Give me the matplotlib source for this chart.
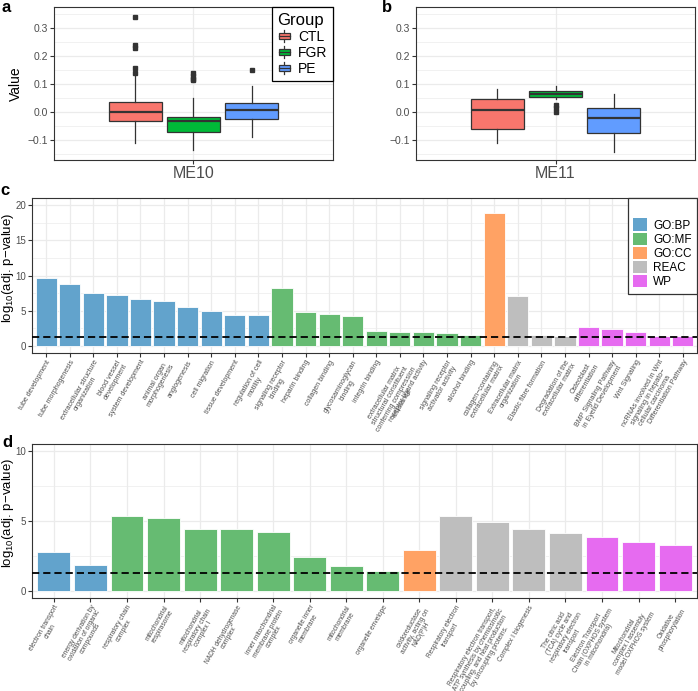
import numpy as np
import matplotlib
matplotlib.use("Agg")
import matplotlib.pyplot as plt
from matplotlib.patches import Patch, Rectangle
from matplotlib.lines import Line2D
from matplotlib.legend_handler import HandlerBase

plt.rcParams['font.family'] = ['Liberation Sans', 'DejaVu Sans']
plt.rcParams['mathtext.fontset'] = 'custom'
plt.rcParams['mathtext.rm'] = 'Liberation Sans'
plt.rcParams['mathtext.default'] = 'regular'

# ---- data: panels a/b (box stats) ----
groups = ["CTL", "FGR", "PE"]
group_colors = ["#F8766D", "#00BA38", "#619CFF"]

me10_q1 = [-0.032, -0.073, -0.024]
me10_med = [0.000, -0.032, 0.008]
me10_q3 = [0.036, -0.018, 0.032]
me10_lo = [-0.113, -0.135, -0.089]
me10_hi = [0.135, 0.048, 0.093]
me10_fliers = [[0.337, 0.240, 0.226, 0.158, 0.139],
               [0.137, 0.127, 0.118, 0.112],
               [0.148]]

me11_q1 = [-0.063, 0.052, -0.077]
me11_med = [0.008, 0.062, -0.021]
me11_q3 = [0.045, 0.074, 0.015]
me11_lo = [-0.113, 0.044, -0.143]
me11_hi = [0.083, 0.092, 0.062]
me11_fliers = [[], [0.024, 0.012, 0.001], []]

# ---- data: panel c (ME10 enrichment) ----
c_labels = [
    "tube development", "tube morphogenesis", "extracellular structure\norganization",
    "blood vessel\ndevelopment", "system development", "animal organ\nmorphogenesis",
    "angiogenesis", "cell migration", "tissue development", "regulation of cell\nmotility",
    "signaling receptor\nbinding", "heparin binding", "collagen binding",
    "glycosaminoglycan\nbinding", "integrin binding",
    "extracellular matrix\nstructural constituent\nconferring compression\nresistance",
    "receptor ligand activity", "signaling receptor\nactivator activity", "alcohol binding",
    "collagen\u2212containing\nextracellular matrix",
    "Extracellular matrix\norganization", "Elastic fibre formation",
    "Degradation of the\nextracellular matrix",
    "Osteoblast\ndifferentiation", "BMP Signaling Pathway\nin Eyelid Development",
    "Wnt Signaling", "ncRNAs involved in Wnt\nsignaling in hepato\u2212\ncellular carcinoma",
    "Differentiation Pathway",
]
c_values = [9.7, 8.8, 7.5, 7.2, 6.7, 6.35, 5.5, 5.0, 4.45, 4.36,
            8.2, 4.83, 4.5, 4.3, 2.08, 2.04, 1.94, 1.9, 1.6,
            18.8,
            7.15, 1.56, 1.47,
            2.75, 2.37, 2.04, 1.42, 1.37]
c_source = (["GO:BP"] * 10 + ["GO:MF"] * 9 + ["GO:CC"] + ["REAC"] * 3 + ["WP"] * 5)

# ---- data: panel d (ME11 enrichment) ----
d_labels = [
    "electron transport\nchain", "energy derivation by\noxidation of organic\ncompounds",
    "respiratory chain\ncomplex", "mitochondrial\nrespirasome",
    "mitochondrial\nrespiratory chain\ncomplex I", "NADH dehydrogenase\ncomplex",
    "inner mitochondrial\nmembrane protein\ncomplex", "organelle inner\nmembrane",
    "mitochondrial\nmembrane", "organelle envelope",
    "oxidoreductase\nactivity, acting on\nNAD(P)H",
    "Respiratory electron\ntransport",
    "Respiratory electron transport,\nATP synthesis by chemiosmotic\ncoupling, and heat production\nby uncoupling proteins.",
    "Complex I biogenesis",
    "The citric acid\n(TCA) cycle and\nrespiratory electron\ntransport",
    "Electron Transport\nChain (OXPHOS system\nin mitochondria)",
    "Mitochondrial\ncomplex I assembly\nmodel OXPHOS system",
    "Oxidative\nphosphorylation",
]
d_values = [2.82, 1.89,
            5.38, 5.24, 4.4, 4.4, 4.21, 2.46, 1.77, 1.46,
            2.92,
            5.38, 4.9, 4.45, 4.16,
            3.88, 3.47, 3.28]
d_source = (["GO:BP"] * 2 + ["GO:MF"] * 8 + ["GO:CC"] + ["REAC"] * 4 + ["WP"] * 3)

sources = ["GO:BP", "GO:MF", "GO:CC", "REAC", "WP"]
source_colors = {"GO:BP": "#62A3CC", "GO:MF": "#66BB72", "GO:CC": "#FFA264",
                 "REAC": "#BEBEBE", "WP": "#E66BF0"}

sig_line = -np.log10(0.05)

# ---- figure ----
W, H = 698, 691
fig = plt.figure(figsize=(W / 100, H / 100), dpi=100)


def add_ax(l, t, r, b):
    return fig.add_axes([l / W, 1 - b / H, (r - l) / W, (b - t) / H])


def style(ax):
    for s in ax.spines.values():
        s.set_color("#333333")
        s.set_linewidth(0.8)
    ax.tick_params(which="major", length=2.75, width=0.8, color="#333333",
                   labelcolor="#4D4D4D", pad=1.5)
    ax.tick_params(which="minor", length=0)
    ax.grid(which="major", color="#EBEBEB", lw=0.9)
    ax.grid(which="minor", color="#EBEBEB", lw=0.5)
    ax.set_axisbelow(True)


class BoxHandler(HandlerBase):
    def create_artists(self, legend, orig_handle, xdescent, ydescent, width, height,
                       fontsize, trans):
        fc = orig_handle.get_facecolor()
        x0 = -xdescent + width * 0.1
        bw = width * 0.8
        y0 = -ydescent + height * 0.22
        bh = height * 0.56
        rect = Rectangle((x0, y0), bw, bh, facecolor=fc, edgecolor="#333333",
                         lw=0.9, transform=trans)
        med = Line2D([x0, x0 + bw], [y0 + bh / 2] * 2, color="#333333", lw=0.9,
                     transform=trans)
        wl = Line2D([x0 + bw / 2] * 2, [-ydescent, y0], color="#333333", lw=0.9,
                    transform=trans)
        wu = Line2D([x0 + bw / 2] * 2, [y0 + bh, -ydescent + height], color="#333333",
                    lw=0.9, transform=trans)
        return [wl, wu, rect, med]


def box_panel(ax, name, q1, med, q3, lo, hi, fliers):
    stats = []
    for i in range(3):
        stats.append(dict(q1=q1[i], med=med[i], q3=q3[i], whislo=lo[i],
                          whishi=hi[i], fliers=fliers[i]))
    pos = [0.75, 1.0, 1.25]
    bp = ax.bxp(stats, positions=pos, widths=0.225, patch_artist=True,
                showcaps=False, manage_ticks=False,
                boxprops=dict(edgecolor="#333333", lw=0.9),
                medianprops=dict(color="#333333", lw=1.6),
                whiskerprops=dict(color="#333333", lw=0.9),
                flierprops=dict(marker="s", markersize=2.6, markerfacecolor="#333333",
                                markeredgecolor="#333333"))
    for patch, col in zip(bp["boxes"], group_colors):
        patch.set_facecolor(col)
    ax.set_xlim(0.4, 1.6)
    ax.set_ylim(-0.172, 0.374)
    ax.set_xticks([1.0], [name], fontsize=11.5)
    yt = [-0.1, 0.0, 0.1, 0.2, 0.3]
    ax.set_yticks(yt, [f"{t:.1f}".replace("-", "\u2212") for t in yt], fontsize=7.5)
    ax.set_yticks([-0.15, -0.05, 0.05, 0.15, 0.25, 0.35], minor=True)
    style(ax)


ax_a = add_ax(54, 7, 333, 160)
box_panel(ax_a, "ME10", me10_q1, me10_med, me10_q3, me10_lo, me10_hi, me10_fliers)
ax_a.set_ylabel("Value", fontsize=10, labelpad=3)
handles = [Patch(facecolor=c) for c in group_colors]
leg = ax_a.legend(handles, groups, title="Group", loc="upper right",
                  bbox_to_anchor=(1.0, 1.0), borderaxespad=0, fontsize=10,
                  title_fontsize=12, handler_map={Patch: BoxHandler()},
                  handlelength=1.0, handleheight=0.95, labelspacing=0.15,
                  handletextpad=0.5, borderpad=0.4, fancybox=False, framealpha=1,
                  edgecolor="black", alignment="left")
leg.get_frame().set_linewidth(0.9)
leg.set_zorder(10)

ax_b = add_ax(416, 7, 695, 160)
box_panel(ax_b, "ME11", me11_q1, me11_med, me11_q3, me11_lo, me11_hi, me11_fliers)


def bar_panel(ax, labels, values, src, ymax, yticks, yminor, lab_size):
    x = np.arange(1, len(values) + 1)
    ax.bar(x, values, width=0.9, color=[source_colors[s] for s in src],
           edgecolor="white", lw=0.6, zorder=2)
    ax.axhline(sig_line, color="black", ls=(0, (4, 2.2)), lw=1.3, zorder=3)
    ax.set_xlim(0.4, len(values) + 0.6)
    ax.set_ylim(-ymax * 0.05, ymax * 1.05)
    ax.set_xticks(x)
    ax.set_xticklabels(labels, rotation=60, ha="right", va="top",
                       rotation_mode="anchor", fontsize=lab_size,
                       multialignment="center", linespacing=1.0)
    ax.set_yticks(yticks, [str(t) for t in yticks], fontsize=7)
    ax.set_yticks(yminor, minor=True)
    ax.set_ylabel("log$_{10}$(adj. p\u2212value)", fontsize=9.5)
    ax.yaxis.set_label_coords(-0.024, 0.55)
    style(ax)


ax_c = add_ax(32, 198, 697, 353)
bar_panel(ax_c, c_labels, c_values, c_source, 20, [0, 5, 10, 15, 20],
          [2.5, 7.5, 12.5, 17.5], 5.0)
handles = [Patch(facecolor=source_colors[s]) for s in sources]
leg2 = ax_c.legend(handles, sources, title=" ", loc="upper right",
                   bbox_to_anchor=(1.0, 1.0), borderaxespad=0, fontsize=8.5,
                   title_fontsize=10, handlelength=1.2, handleheight=1.2,
                   labelspacing=0.1, handletextpad=0.5, borderpad=0.45,
                   fancybox=False, framealpha=1, edgecolor="#333333")
leg2.get_frame().set_linewidth(0.9)

ax_d = add_ax(32, 444, 697, 598)
bar_panel(ax_d, d_labels, d_values, d_source, 10, [0, 5, 10], [2.5, 7.5], 4.8)

for letter, x, y in [("a", 2, 12), ("b", 382, 12), ("c", 0, 195), ("d", 2, 447)]:
    fig.text(x / W, 1 - y / H, letter, fontsize=12, fontweight="bold",
             va="baseline", ha="left")

fig.savefig("out.png", dpi=100)
